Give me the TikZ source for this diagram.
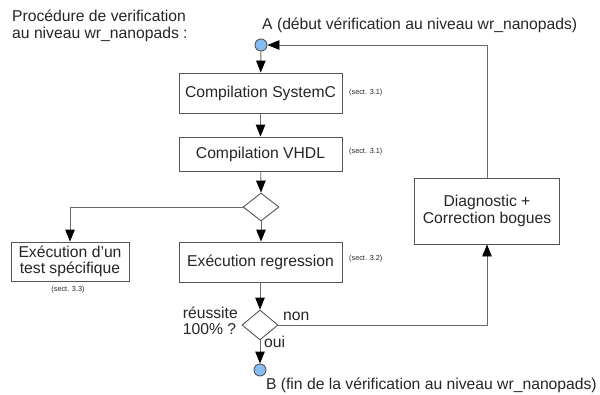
\documentclass[tikz,border=0pt]{standalone}
\usepackage{fontspec}
\setmainfont{Liberation Sans}
\usetikzlibrary{arrows.meta,shapes.geometric}
\definecolor{lineg}{HTML}{6A6A6A}
\definecolor{boxg}{HTML}{555555}
\definecolor{dotblue}{HTML}{84BDF2}
\tikzset{
  every node/.style={font=\fontsize{15.7}{16.5}\selectfont, text=black!85},
  stepbox/.style={draw=boxg, line width=0.9pt, fill=white, inner sep=0pt, align=center},
  choice/.style={draw=boxg, line width=0.9pt, fill=white, shape=diamond, inner sep=0pt, minimum width=36pt, minimum height=28pt},
  endpoint/.style={draw=boxg, line width=0.9pt, fill=dotblue, circle, inner sep=0pt, minimum size=12pt},
  sectlbl/.style={font=\fontsize{7.3}{8}\selectfont, anchor=west, inner sep=0pt},
  txt/.style={inner sep=0pt},
  flow/.style={draw=lineg, line width=0.9pt, -{Triangle[length=12pt,width=9.5pt,color=black]}},
  plain/.style={draw=lineg, line width=0.9pt}
}
\begin{document}
\begin{tikzpicture}[x=1pt,y=-1pt]
\useasboundingbox (0,0) rectangle (600,394);
% title
\node[txt, anchor=north west, align=left] (title) at (12,10) {Procédure de verification\\au niveau wr\_nanopads :};
% nodes
\node[endpoint] (A) at (261,45) {};
\node[txt, anchor=west] (Alab) at (262,25) {A (début vérification au niveau wr\_nanopads)};
\node[stepbox, minimum width=163pt, minimum height=40pt] (b1) at (260.5,93) {Compilation SystemC};
\node[sectlbl] (s1) at (349,93) {(sect. 3.1)};
\node[stepbox, minimum width=163pt, minimum height=34pt] (b2) at (260.5,154) {Compilation VHDL};
\node[sectlbl] (s2) at (349,152) {(sect. 3.1)};
\node[choice] (d1) at (261,207) {};
\node[stepbox, minimum width=118pt, minimum height=39pt] (b3) at (70,261.5) {Exécution d{\char"0027}un\\test spécifique};
\node[sectlbl, anchor=center] (s3) at (68,290) {(sect. 3.3)};
\node[stepbox, minimum width=163pt, minimum height=40pt] (b4) at (260.5,262) {Exécution regression};
\node[sectlbl] (s4) at (349,259) {(sect. 3.2)};
\node[choice, minimum height=30pt] (d2) at (260,325) {};
\node[txt, anchor=east, align=left] (q) at (238,321) {réussite\\100\% ?};
\node[txt, anchor=south west] (non) at (283,321) {non};
\node[txt, anchor=north west] (oui) at (264,336) {oui};
\node[endpoint] (B) at (260,370) {};
\node[txt, anchor=east] (Blab) at (597,385) {B (fin de la vérification au niveau wr\_nanopads)};
\node[stepbox, minimum width=145pt, minimum height=66pt] (b5) at (487,211) {Diagnostic +\\Correction bogues};
% connectors
\coordinate (c1) at (70,207);
\coordinate (c2) at (487,325);
\coordinate (c3) at (487,45);
\draw[flow] (A) -- (b1);
\draw[flow] (b1) -- (b2);
\draw[flow] (b2) -- (d1.north);
\draw[flow] (d1.west) -- (c1) -- (b3.north);
\draw[flow] (d1.south) -- (b4.north -| d1.south);
\draw[flow] (b4.south -| d2.north) -- (d2.north);
\draw[flow] (d2.south) -- (B);
\draw[flow] (d2.east) -- (c2) -- (b5.south);
\draw[flow] (b5.north) -- (c3) -- (A);
\end{tikzpicture}
\end{document}
